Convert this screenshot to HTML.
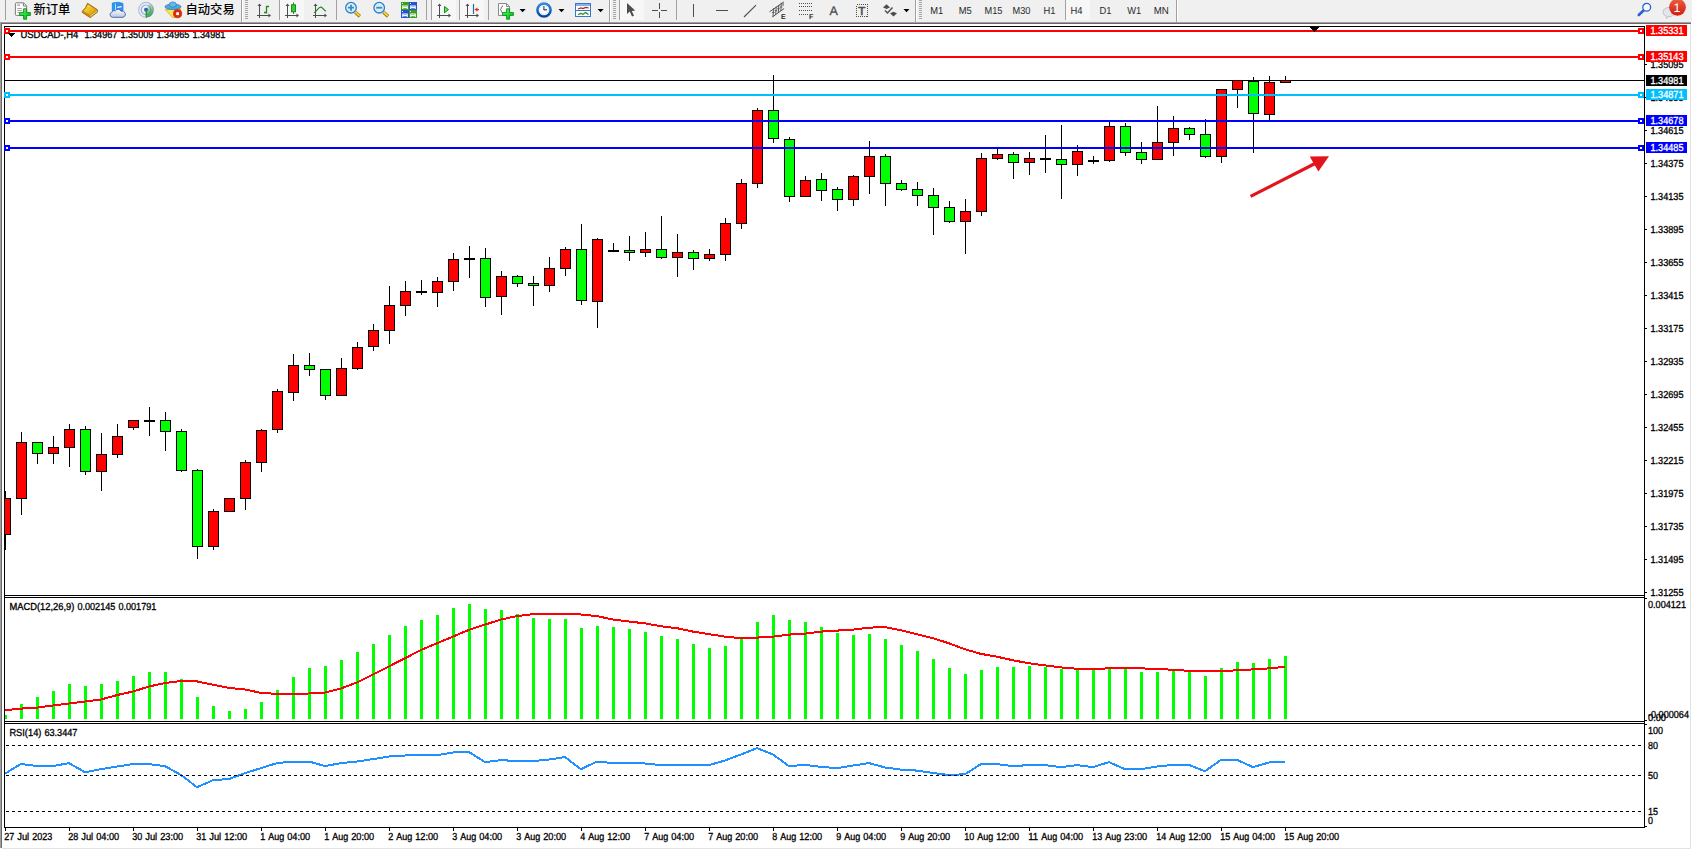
<!DOCTYPE html>
<html lang="zh-CN"><head><meta charset="utf-8"><title>USDCAD-,H4</title>
<style>
html,body{margin:0;padding:0;background:#fff;}
body{width:1692px;height:850px;overflow:hidden;position:relative;font-family:"Liberation Sans","Noto Sans CJK SC",sans-serif;}
#tbb{position:absolute;left:0;top:0;width:1692px;height:22px;background:#f0f0f0;}
#tb{position:absolute;left:0;top:0;width:1692px;height:22px;z-index:3;}
#tb .t{position:absolute;top:0;height:22px;line-height:22px;white-space:nowrap;}
#tb .cj{font-family:"Liberation Sans","Noto Sans CJK SC",sans-serif;font-size:12.3px;color:#000;top:-1.1px;font-weight:500;}
#tb .tf{font-size:9.5px;color:#3c3c3c;top:0px;}
svg{position:absolute;left:0;top:0;}
svg text{font-family:"Liberation Sans",sans-serif;font-size:10.2px;fill:#000;stroke:#000;stroke-width:0.32px;text-rendering:geometricPrecision;white-space:pre;}
svg text.w{fill:#fff;stroke:#fff;}
</style></head><body>
<div id="tbb"></div>
<div id="tb">
<span class="t cj" style="left:33.4px;letter-spacing:0px">新订单</span>
<span class="t cj" style="left:185.5px;letter-spacing:0px">自动交易</span>
</div>
<svg width="1692" height="850" viewBox="0 0 1692 850">
<g id="tbg">
<rect x="0" y="22" width="1691" height="1" fill="#a0a0a0" shape-rendering="crispEdges"/>
<rect x="1" y="23" width="1690" height="1" fill="#696969" shape-rendering="crispEdges"/>
<rect x="0" y="22" width="1" height="826" fill="#a0a0a0" shape-rendering="crispEdges"/>
<rect x="1" y="23" width="1" height="825" fill="#696969" shape-rendering="crispEdges"/>
<rect x="1690" y="24" width="1" height="825" fill="#e3e3e3" shape-rendering="crispEdges"/>
<rect x="2" y="848" width="1689" height="1" fill="#e3e3e3" shape-rendering="crispEdges"/>
<rect x="5" y="0" width="1" height="20" fill="#a0a0a0" shape-rendering="crispEdges"/>
<defs><linearGradient id="gp" x1="0" y1="0" x2="1" y2="1"><stop offset="0" stop-color="#7dff8a"/><stop offset="0.5" stop-color="#1fe03a"/><stop offset="1" stop-color="#0fb020"/></linearGradient><linearGradient id="gb" x1="0" y1="0" x2="1" y2="1"><stop offset="0" stop-color="#ffe45a"/><stop offset="0.55" stop-color="#eab818"/><stop offset="1" stop-color="#d09410"/></linearGradient><linearGradient id="gc" x1="0" y1="0" x2="0" y2="1"><stop offset="0" stop-color="#ffffff"/><stop offset="1" stop-color="#b8c8e4"/></linearGradient><linearGradient id="gs" x1="0" y1="0" x2="0.3" y2="1"><stop offset="0" stop-color="#bfe0bf" stop-opacity="0.5"/><stop offset="1" stop-color="#2fa02f" stop-opacity="0.95"/></linearGradient></defs>
<path d="M16.2 2.8 H23.6 L26.6 5.8 V14.6 Q26.6 15.4 25.8 15.4 H16.2 Q15.4 15.4 15.4 14.6 V3.6 Q15.4 2.8 16.2 2.8 Z" fill="#fefefe" stroke="#7c7c7c" stroke-width="1"/>
<path d="M23.4 3 V6 H26.4" fill="none" stroke="#7c7c7c" stroke-width="1"/>
<rect x="17.2" y="4.4" width="2.8" height="1.4" fill="#a8a8a8"/>
<path d="M17.3 8.5 H21.8 M17.3 10.5 H21.8 M17.3 12.4 H20" stroke="#9a9a9a" stroke-width="0.9"/>
<path d="M23.6 8.8 H26.6 V12.6 H30.4 V15.4 H26.6 V19.2 H23.6 V15.4 H19.6 V12.6 H23.6 Z" fill="url(#gp)" stroke="#0c8c14" stroke-width="0.9"/>
<path d="M87.5 3.2 L97.3 9.6 L97.6 12 L90.2 17.7 L82.2 12.4 L82.3 11.2 Q86 8 87.5 3.2 Z" fill="#c48a14" stroke="#a06408" stroke-width="0.8"/>
<path d="M88 4.6 L96.2 9.9 L89.9 14.9 L83.6 11.1 Q86.6 8.4 88 4.6 Z" fill="url(#gb)"/>
<path d="M90.2 16.3 L96.8 11.2" stroke="#f4e8b8" stroke-width="0.9"/>
<path d="M112.3 3 L118 2.2 L123 3.4 V11 H112.3 Z" fill="#1e9cf4" stroke="#1878d8" stroke-width="0.7"/>
<path d="M115.6 4.2 L123 3.6 V11 H115.6 Z" fill="#2e8cf0"/>
<path d="M115.5 3.6 V11" stroke="#d8f0ff" stroke-width="0.8"/>
<path d="M117.2 7.4 L121.6 6.6" stroke="#ffffff" stroke-width="1.1"/>
<path d="M112.5 17.3 a2.7 2.7 0 0 1 -0.4 -5.3 a3 3 0 0 1 3.4 -1.2 a3.2 3.2 0 0 1 5.6 0.4 a2.9 2.9 0 0 1 2.1 6.1 Z" fill="url(#gc)" stroke="#3f62a8" stroke-width="0.9"/>
<path d="M146 9.8 L149.8 3.2 A7.6 7.6 0 0 1 146 17.4 Z" fill="url(#gs)"/>
<circle cx="146" cy="9.8" r="7.4" fill="none" stroke="#4a7fd8" stroke-width="1.1" opacity="0.42"/>
<circle cx="146" cy="9.8" r="4.8" fill="none" stroke="#3f74d4" stroke-width="1.2" opacity="0.55"/>
<circle cx="146" cy="9.8" r="2" fill="#2a5fd0"/>
<path d="M146.3 10 V17.6" stroke="#18a018" stroke-width="1.4"/>
<path d="M165.3 9.6 L180.9 8.9 L175 17.6 L172.6 17.6 Z" fill="#f8e264" stroke="#d8a818" stroke-width="0.8"/>
<ellipse cx="173" cy="6.8" rx="8" ry="2.7" fill="#4fa8e0" stroke="#2a80b4" stroke-width="0.8"/>
<ellipse cx="172.8" cy="4.6" rx="3.6" ry="2.7" fill="#62b8ec" stroke="#2a80b4" stroke-width="0.7"/>
<circle cx="177.6" cy="13.7" r="4.1" fill="#e22a0a" stroke="#b81804" stroke-width="0.6"/>
<rect x="176.2" y="12.3" width="2.8" height="2.8" fill="#fff"/>
<rect x="241" y="0" width="1" height="22" fill="#a0a0a0" shape-rendering="crispEdges"/>
<rect x="242" y="0" width="1" height="22" fill="#ffffff" shape-rendering="crispEdges"/>
<rect x="245" y="0" width="3" height="1" fill="#a6a6a6" shape-rendering="crispEdges"/>
<rect x="245" y="2" width="3" height="1" fill="#a6a6a6" shape-rendering="crispEdges"/>
<rect x="245" y="4" width="3" height="1" fill="#a6a6a6" shape-rendering="crispEdges"/>
<rect x="245" y="6" width="3" height="1" fill="#a6a6a6" shape-rendering="crispEdges"/>
<rect x="245" y="8" width="3" height="1" fill="#a6a6a6" shape-rendering="crispEdges"/>
<rect x="245" y="10" width="3" height="1" fill="#a6a6a6" shape-rendering="crispEdges"/>
<rect x="245" y="12" width="3" height="1" fill="#a6a6a6" shape-rendering="crispEdges"/>
<rect x="245" y="14" width="3" height="1" fill="#a6a6a6" shape-rendering="crispEdges"/>
<rect x="245" y="16" width="3" height="1" fill="#a6a6a6" shape-rendering="crispEdges"/>
<rect x="245" y="18" width="3" height="1" fill="#a6a6a6" shape-rendering="crispEdges"/>
<path d="M259.5 5 V18 M257 15.5 H269" stroke="#4d4d4d" stroke-width="1" fill="none" shape-rendering="crispEdges"/>
<path d="M259.5 3.5 L257.5 6 H261.5 Z M271 15.5 L268.5 13.5 V17.5 Z" fill="#4d4d4d"/>
<path d="M266.5 6 V13.5 M266.5 6.5 H269 M264 12.5 H266.5" stroke="#1d8a1d" stroke-width="1.3" fill="none"/>
<rect x="279" y="0" width="1" height="20" fill="#a0a0a0" shape-rendering="crispEdges"/>
<rect x="280" y="0" width="24" height="20" fill="#f7f7f7" shape-rendering="crispEdges"/>
<path d="M287.5 5 V18 M285 15.5 H297" stroke="#4d4d4d" stroke-width="1" fill="none" shape-rendering="crispEdges"/>
<path d="M287.5 3.5 L285.5 6 H289.5 Z M299 15.5 L296.5 13.5 V17.5 Z" fill="#4d4d4d"/>
<path d="M293.5 2.5 V14" stroke="#1d8a1d" stroke-width="1"/>
<rect x="291.5" y="4.8" width="4" height="7" fill="#2fd02f" stroke="#1d8a1d" stroke-width="1"/>
<path d="M315.5 5 V18 M313 15.5 H325" stroke="#4d4d4d" stroke-width="1" fill="none" shape-rendering="crispEdges"/>
<path d="M315.5 3.5 L313.5 6 H317.5 Z M327 15.5 L324.5 13.5 V17.5 Z" fill="#4d4d4d"/>
<path d="M314 12.8 C317 11.5 318.5 6.5 321 7.2 C323 7.8 324 10.5 326 11.2" stroke="#1d8a1d" stroke-width="1.2" fill="none"/>
<rect x="336" y="0" width="1" height="20" fill="#a0a0a0" shape-rendering="crispEdges"/>
<path d="M355.2 12.3 L359.9 16.4" stroke="#b07c0a" stroke-width="3.4"/>
<path d="M355.4 12.1 L359.6 15.8" stroke="#f2d648" stroke-width="1.6"/>
<circle cx="351" cy="7.7" r="5.3" fill="#d2eefc" stroke="#2f7fc8" stroke-width="1.3"/>
<path d="M348 7.7 H354 M351 4.7 V10.7" stroke="#4688b0" stroke-width="1.8"/>
<path d="M383.4 12.3 L388.09999999999997 16.4" stroke="#b07c0a" stroke-width="3.4"/>
<path d="M383.59999999999997 12.1 L387.8 15.8" stroke="#f2d648" stroke-width="1.6"/>
<circle cx="379.2" cy="7.7" r="5.3" fill="#d2eefc" stroke="#2f7fc8" stroke-width="1.3"/>
<path d="M376.2 7.7 H382.2" stroke="#4688b0" stroke-width="1.8"/>
<rect x="401" y="2" width="8" height="8" fill="#38a01c"/>
<rect x="402" y="3" width="1" height="1" fill="#e8f0e8"/>
<path d="M402.2 5.4 H407.8 V9 H406.8 V8.2 H403.2 V9 H402.2 Z" fill="#ffffff"/>
<rect x="403.2" y="6.2" width="3.6" height="0.9" fill="#8fd070"/>
<rect x="409" y="2" width="8" height="8" fill="#2454d0"/>
<rect x="410" y="3" width="1" height="1" fill="#e8f0e8"/>
<path d="M410.2 5.4 H415.8 V9 H414.8 V8.2 H411.2 V9 H410.2 Z" fill="#ffffff"/>
<rect x="411.2" y="6.2" width="3.6" height="0.9" fill="#88a8f0"/>
<rect x="401" y="10" width="8" height="8" fill="#2454d0"/>
<rect x="402" y="11" width="1" height="1" fill="#e8f0e8"/>
<path d="M402.2 13.4 H407.8 V17 H406.8 V16.2 H403.2 V17 H402.2 Z" fill="#ffffff"/>
<rect x="403.2" y="14.2" width="3.6" height="0.9" fill="#88a8f0"/>
<rect x="409" y="10" width="8" height="8" fill="#38a01c"/>
<rect x="410" y="11" width="1" height="1" fill="#e8f0e8"/>
<path d="M410.2 13.4 H415.8 V17 H414.8 V16.2 H411.2 V17 H410.2 Z" fill="#ffffff"/>
<rect x="411.2" y="14.2" width="3.6" height="0.9" fill="#8fd070"/>
<rect x="426" y="0" width="1" height="20" fill="#a0a0a0" shape-rendering="crispEdges"/>
<rect x="431" y="0" width="1" height="20" fill="#a0a0a0" shape-rendering="crispEdges"/>
<rect x="432" y="0" width="24" height="20" fill="#f7f7f7" shape-rendering="crispEdges"/>
<path d="M439.5 5 V18 M437 15.5 H449" stroke="#4d4d4d" stroke-width="1" fill="none" shape-rendering="crispEdges"/>
<path d="M439.5 3.5 L437.5 6 H441.5 Z M451 15.5 L448.5 13.5 V17.5 Z" fill="#4d4d4d"/>
<path d="M444.5 6.5 L448.5 9.6 L444.5 12.8 Z" fill="#5fe05f" stroke="#1d8a1d" stroke-width="1"/>
<rect x="459" y="0" width="1" height="20" fill="#a0a0a0" shape-rendering="crispEdges"/>
<rect x="460" y="0" width="24" height="20" fill="#f7f7f7" shape-rendering="crispEdges"/>
<path d="M467.5 5 V18 M465 15.5 H477" stroke="#4d4d4d" stroke-width="1" fill="none" shape-rendering="crispEdges"/>
<path d="M467.5 3.5 L465.5 6 H469.5 Z M479 15.5 L476.5 13.5 V17.5 Z" fill="#4d4d4d"/>
<path d="M473.5 4 V14" stroke="#1f6fb0" stroke-width="1.2"/>
<path d="M474.5 9.6 L477.5 7.4 V9 H479 V10.2 H477.5 V11.8 Z" fill="#d83a10"/>
<rect x="488" y="0" width="1" height="20" fill="#a0a0a0" shape-rendering="crispEdges"/>
<path d="M498.5 3.5 H506.5 L509.5 6.5 V15.5 H498.5 Z" fill="#fdfdfd" stroke="#8a8a8a" stroke-width="1"/>
<path d="M506.5 3.5 V6.5 H509.5" fill="none" stroke="#8a8a8a" stroke-width="1"/>
<path d="M503 6 C501 6 501.5 9 500.5 9.5 C501.5 10 501 13 503 13" fill="none" stroke="#555" stroke-width="0.9"/>
<path d="M506.6 8.8 H509.6 V12.6 H513.4 V15.4 H509.6 V19.2 H506.6 V15.4 H502.6 V12.6 H506.6 Z" fill="url(#gp)" stroke="#0c8c14" stroke-width="0.9"/>
<path d="M519.6 9 L525.6 9 L522.6 12.2 Z" fill="#000"/>
<defs><linearGradient id="gk" x1="0" y1="0" x2="0" y2="1"><stop offset="0" stop-color="#2a8cf0"/><stop offset="1" stop-color="#0a449c"/></linearGradient></defs>
<circle cx="544" cy="10" r="6.6" fill="#f8fbff" stroke="url(#gk)" stroke-width="2.5"/>
<circle cx="544" cy="10" r="4.3" fill="none" stroke="#a8b4c4" stroke-width="0.8" stroke-dasharray="0.7 1.55"/>
<path d="M543.9 6.2 V10 L547 9.7" stroke="#222" stroke-width="1" fill="none"/>
<path d="M558.5 9 L564.5 9 L561.5 12.2 Z" fill="#000"/>
<rect x="575.5" y="3.5" width="15" height="13" fill="#fafcff" stroke="#3a78c8" stroke-width="1"/>
<rect x="576" y="4" width="14" height="2" fill="#7fb2ee"/>
<path d="M576 10.5 H590" stroke="#3a78c8" stroke-width="1"/>
<path d="M578 9 L581 8 L583 8.6 L585.5 7.4 L588.5 7.8" stroke="#b02a10" stroke-width="1.2" fill="none"/>
<path d="M578 14.5 L581 13.4 L583 14.4 L585.5 12.6 L588.5 14.6" stroke="#1d8a1d" stroke-width="1.2" fill="none"/>
<path d="M597.6 9 L603.6 9 L600.6 12.2 Z" fill="#000"/>
<rect x="609" y="0" width="1" height="22" fill="#a0a0a0" shape-rendering="crispEdges"/>
<rect x="610" y="0" width="1" height="22" fill="#ffffff" shape-rendering="crispEdges"/>
<rect x="613" y="0" width="3" height="1" fill="#a6a6a6" shape-rendering="crispEdges"/>
<rect x="613" y="2" width="3" height="1" fill="#a6a6a6" shape-rendering="crispEdges"/>
<rect x="613" y="4" width="3" height="1" fill="#a6a6a6" shape-rendering="crispEdges"/>
<rect x="613" y="6" width="3" height="1" fill="#a6a6a6" shape-rendering="crispEdges"/>
<rect x="613" y="8" width="3" height="1" fill="#a6a6a6" shape-rendering="crispEdges"/>
<rect x="613" y="10" width="3" height="1" fill="#a6a6a6" shape-rendering="crispEdges"/>
<rect x="613" y="12" width="3" height="1" fill="#a6a6a6" shape-rendering="crispEdges"/>
<rect x="613" y="14" width="3" height="1" fill="#a6a6a6" shape-rendering="crispEdges"/>
<rect x="613" y="16" width="3" height="1" fill="#a6a6a6" shape-rendering="crispEdges"/>
<rect x="613" y="18" width="3" height="1" fill="#a6a6a6" shape-rendering="crispEdges"/>
<rect x="619" y="0" width="1" height="20" fill="#a0a0a0" shape-rendering="crispEdges"/>
<rect x="620" y="0" width="24" height="20" fill="#f7f7f7" shape-rendering="crispEdges"/>
<path d="M627 3 V14 L629.8 11.6 L632 16.6 L634 15.8 L631.8 10.9 L635.2 10.6 Z" fill="#4d4d4d"/>
<path d="M652 10.5 H658 M661 10.5 H667 M659.5 3 V9 M659.5 12 V18" stroke="#4d4d4d" stroke-width="1" shape-rendering="crispEdges"/>
<rect x="676" y="0" width="1" height="20" fill="#a0a0a0" shape-rendering="crispEdges"/>
<rect x="693" y="4" width="1" height="13" fill="#4d4d4d" shape-rendering="crispEdges"/>
<rect x="716" y="10" width="12" height="1" fill="#4d4d4d" shape-rendering="crispEdges"/>
<path d="M744 17 L756 5.2" stroke="#4d4d4d" stroke-width="1.1"/>
<path d="M769.5 11.8 L782.7 2.8 M772.3 17 L784.1 8.5" stroke="#4d4d4d" stroke-width="1" fill="none"/>
<path d="M773.6 8.2 L773 16.8 M776.2 6.6 L775.7 14.8 M778.8 4.8 L778.3 12.8 M781.3 2.6 L780.9 11 M783.2 1.6 L783 6" stroke="#4d4d4d" stroke-width="0.9" fill="none"/>
<path d="M772 12.5 H774.6 M774.6 10.6 H777.2 M777.2 8.8 H779.8 M779.8 7 H782.4" stroke="#4d4d4d" stroke-width="0.8" fill="none"/>
<text x="781" y="18.6" style="font-size:7px;font-weight:bold;fill:#2a2a2a;stroke:none">E</text>
<path d="M799 3.5 H812" stroke="#4d4d4d" stroke-width="1" stroke-dasharray="1 1" shape-rendering="crispEdges"/>
<path d="M799 6.5 H812" stroke="#4d4d4d" stroke-width="1" stroke-dasharray="1 1" shape-rendering="crispEdges"/>
<path d="M799 10.5 H812" stroke="#4d4d4d" stroke-width="1" stroke-dasharray="1 1" shape-rendering="crispEdges"/>
<path d="M799 14.5 H808" stroke="#4d4d4d" stroke-width="1" stroke-dasharray="1 1" shape-rendering="crispEdges"/>
<text x="809" y="18.6" style="font-size:7px;font-weight:bold;fill:#2a2a2a;stroke:none">F</text>
<text x="829.6" y="15" style="font-size:12.5px;fill:#4d4d4d;stroke:#4d4d4d;stroke-width:0.3px">A</text>
<rect x="856.5" y="4.5" width="11" height="12" fill="none" stroke="#4d4d4d" stroke-width="1" stroke-dasharray="1 1" shape-rendering="crispEdges"/>
<text x="858.3" y="14.8" style="font-size:11.5px;fill:#4d4d4d;stroke:#4d4d4d;stroke-width:0.6px">T</text>
<path d="M886.5 4.2 L890 7.5 L886.5 9 L883 7.5 Z" fill="#4d4d4d"/>
<path d="M893.5 16.5 L890 13.2 L893.5 11.8 L897 13.2 Z" fill="#4d4d4d"/>
<path d="M885 10.5 L887.5 13 L892.5 7.5" stroke="#4d4d4d" stroke-width="1.4" fill="none"/>
<path d="M903.5 9 L909.5 9 L906.5 12.2 Z" fill="#000"/>
<rect x="915" y="0" width="1" height="22" fill="#a0a0a0" shape-rendering="crispEdges"/>
<rect x="916" y="0" width="1" height="22" fill="#ffffff" shape-rendering="crispEdges"/>
<rect x="919" y="0" width="3" height="1" fill="#a6a6a6" shape-rendering="crispEdges"/>
<rect x="919" y="2" width="3" height="1" fill="#a6a6a6" shape-rendering="crispEdges"/>
<rect x="919" y="4" width="3" height="1" fill="#a6a6a6" shape-rendering="crispEdges"/>
<rect x="919" y="6" width="3" height="1" fill="#a6a6a6" shape-rendering="crispEdges"/>
<rect x="919" y="8" width="3" height="1" fill="#a6a6a6" shape-rendering="crispEdges"/>
<rect x="919" y="10" width="3" height="1" fill="#a6a6a6" shape-rendering="crispEdges"/>
<rect x="919" y="12" width="3" height="1" fill="#a6a6a6" shape-rendering="crispEdges"/>
<rect x="919" y="14" width="3" height="1" fill="#a6a6a6" shape-rendering="crispEdges"/>
<rect x="919" y="16" width="3" height="1" fill="#a6a6a6" shape-rendering="crispEdges"/>
<rect x="919" y="18" width="3" height="1" fill="#a6a6a6" shape-rendering="crispEdges"/>
<rect x="1065" y="0" width="1" height="20" fill="#a0a0a0" shape-rendering="crispEdges"/>
<rect x="1066" y="0" width="24" height="20" fill="#f7f7f7" shape-rendering="crispEdges"/>
<rect x="1176" y="0" width="1" height="22" fill="#a0a0a0" shape-rendering="crispEdges"/>
<rect x="1177" y="0" width="1" height="22" fill="#ffffff" shape-rendering="crispEdges"/>
<text x="930.2" y="14" textLength="13" lengthAdjust="spacingAndGlyphs" style="fill:#2a2a2a;stroke:none">M1</text>
<text x="958.7" y="14" textLength="13" lengthAdjust="spacingAndGlyphs" style="fill:#2a2a2a;stroke:none">M5</text>
<text x="984.5" y="14" textLength="18" lengthAdjust="spacingAndGlyphs" style="fill:#2a2a2a;stroke:none">M15</text>
<text x="1012.5" y="14" textLength="18" lengthAdjust="spacingAndGlyphs" style="fill:#2a2a2a;stroke:none">M30</text>
<text x="1043.5" y="14" textLength="12" lengthAdjust="spacingAndGlyphs" style="fill:#2a2a2a;stroke:none">H1</text>
<text x="1070.5" y="14" textLength="12" lengthAdjust="spacingAndGlyphs" style="fill:#2a2a2a;stroke:none">H4</text>
<text x="1099.5" y="14" textLength="12" lengthAdjust="spacingAndGlyphs" style="fill:#2a2a2a;stroke:none">D1</text>
<text x="1127.2" y="14" textLength="14" lengthAdjust="spacingAndGlyphs" style="fill:#2a2a2a;stroke:none">W1</text>
<text x="1153.7" y="14" textLength="15" lengthAdjust="spacingAndGlyphs" style="fill:#2a2a2a;stroke:none">MN</text>
<path d="M1644 10 L1638.8 15" stroke="#2a5fd0" stroke-width="2.6" stroke-linecap="round"/>
<circle cx="1646.7" cy="7.3" r="3.9" fill="#f6f8ff" stroke="#2a5fd0" stroke-width="1.3"/>
<path d="M1663 12 a6 4.6 0 1 1 5 4.6 l-1.6 2 l-0.2 -2.4 a6 4.6 0 0 1 -3.2 -4.2 Z" fill="#e2e4ee" stroke="#b8b8b8" stroke-width="0.8"/>
<defs><linearGradient id="rb" x1="0" y1="0" x2="0" y2="1"><stop offset="0" stop-color="#e86040"/><stop offset="1" stop-color="#d41c0c"/></linearGradient></defs>
<circle cx="1677.5" cy="7.3" r="8.4" fill="url(#rb)"/>
<text x="1673.6" y="11.8" class="w" style="font-size:12.5px;stroke:none">1</text>
</g>
<g shape-rendering="crispEdges">
<rect x="4" y="26" width="1641" height="1" fill="#000"/>
<rect x="4" y="26" width="1" height="802" fill="#000"/>
<rect x="1644" y="26" width="1" height="802" fill="#000"/>
<rect x="4" y="595" width="1641" height="1" fill="#000"/>
<rect x="4" y="597" width="1641" height="1" fill="#000"/>
<rect x="4" y="721" width="1641" height="1" fill="#000"/>
<rect x="4" y="723" width="1641" height="1" fill="#000"/>
<rect x="4" y="827" width="1641" height="1" fill="#000"/>
<clipPath id="cc"><rect x="5" y="27" width="1639" height="568"/></clipPath>
<g clip-path="url(#cc)">
<rect x="5" y="491" width="1" height="59" fill="#000"/>
<rect x="0" y="498" width="11" height="37" fill="#000"/>
<rect x="1" y="499" width="9" height="35" fill="#ff0000"/>
<rect x="21" y="432" width="1" height="83" fill="#000"/>
<rect x="16" y="442" width="11" height="57" fill="#000"/>
<rect x="17" y="443" width="9" height="55" fill="#ff0000"/>
<rect x="37" y="442" width="1" height="22" fill="#000"/>
<rect x="32" y="442" width="11" height="12" fill="#000"/>
<rect x="33" y="443" width="9" height="10" fill="#00ff00"/>
<rect x="53" y="436" width="1" height="28" fill="#000"/>
<rect x="48" y="447" width="11" height="7" fill="#000"/>
<rect x="49" y="448" width="9" height="5" fill="#ff0000"/>
<rect x="69" y="424" width="1" height="43" fill="#000"/>
<rect x="64" y="429" width="11" height="19" fill="#000"/>
<rect x="65" y="430" width="9" height="17" fill="#ff0000"/>
<rect x="85" y="426" width="1" height="49" fill="#000"/>
<rect x="80" y="429" width="11" height="43" fill="#000"/>
<rect x="81" y="430" width="9" height="41" fill="#00ff00"/>
<rect x="101" y="433" width="1" height="58" fill="#000"/>
<rect x="96" y="454" width="11" height="18" fill="#000"/>
<rect x="97" y="455" width="9" height="16" fill="#ff0000"/>
<rect x="117" y="424" width="1" height="34" fill="#000"/>
<rect x="112" y="436" width="11" height="19" fill="#000"/>
<rect x="113" y="437" width="9" height="17" fill="#ff0000"/>
<rect x="133" y="420" width="1" height="10" fill="#000"/>
<rect x="128" y="420" width="11" height="8" fill="#000"/>
<rect x="129" y="421" width="9" height="6" fill="#ff0000"/>
<rect x="149" y="407" width="1" height="29" fill="#000"/>
<rect x="144" y="420" width="11" height="2" fill="#000"/>
<rect x="165" y="412" width="1" height="39" fill="#000"/>
<rect x="160" y="420" width="11" height="12" fill="#000"/>
<rect x="161" y="421" width="9" height="10" fill="#00ff00"/>
<rect x="181" y="429" width="1" height="43" fill="#000"/>
<rect x="176" y="431" width="11" height="40" fill="#000"/>
<rect x="177" y="432" width="9" height="38" fill="#00ff00"/>
<rect x="197" y="469" width="1" height="90" fill="#000"/>
<rect x="192" y="470" width="11" height="77" fill="#000"/>
<rect x="193" y="471" width="9" height="75" fill="#00ff00"/>
<rect x="213" y="509" width="1" height="41" fill="#000"/>
<rect x="208" y="511" width="11" height="36" fill="#000"/>
<rect x="209" y="512" width="9" height="34" fill="#ff0000"/>
<rect x="229" y="498" width="1" height="14" fill="#000"/>
<rect x="224" y="498" width="11" height="14" fill="#000"/>
<rect x="225" y="499" width="9" height="12" fill="#ff0000"/>
<rect x="245" y="460" width="1" height="50" fill="#000"/>
<rect x="240" y="462" width="11" height="37" fill="#000"/>
<rect x="241" y="463" width="9" height="35" fill="#ff0000"/>
<rect x="261" y="429" width="1" height="43" fill="#000"/>
<rect x="256" y="430" width="11" height="33" fill="#000"/>
<rect x="257" y="431" width="9" height="31" fill="#ff0000"/>
<rect x="277" y="389" width="1" height="44" fill="#000"/>
<rect x="272" y="391" width="11" height="39" fill="#000"/>
<rect x="273" y="392" width="9" height="37" fill="#ff0000"/>
<rect x="293" y="354" width="1" height="47" fill="#000"/>
<rect x="288" y="365" width="11" height="28" fill="#000"/>
<rect x="289" y="366" width="9" height="26" fill="#ff0000"/>
<rect x="309" y="353" width="1" height="23" fill="#000"/>
<rect x="304" y="365" width="11" height="5" fill="#000"/>
<rect x="305" y="366" width="9" height="3" fill="#00ff00"/>
<rect x="325" y="369" width="1" height="31" fill="#000"/>
<rect x="320" y="369" width="11" height="27" fill="#000"/>
<rect x="321" y="370" width="9" height="25" fill="#00ff00"/>
<rect x="341" y="358" width="1" height="38" fill="#000"/>
<rect x="336" y="368" width="11" height="28" fill="#000"/>
<rect x="337" y="369" width="9" height="26" fill="#ff0000"/>
<rect x="357" y="342" width="1" height="28" fill="#000"/>
<rect x="352" y="347" width="11" height="22" fill="#000"/>
<rect x="353" y="348" width="9" height="20" fill="#ff0000"/>
<rect x="373" y="324" width="1" height="27" fill="#000"/>
<rect x="368" y="330" width="11" height="17" fill="#000"/>
<rect x="369" y="331" width="9" height="15" fill="#ff0000"/>
<rect x="389" y="286" width="1" height="58" fill="#000"/>
<rect x="384" y="305" width="11" height="26" fill="#000"/>
<rect x="385" y="306" width="9" height="24" fill="#ff0000"/>
<rect x="405" y="281" width="1" height="35" fill="#000"/>
<rect x="400" y="291" width="11" height="15" fill="#000"/>
<rect x="401" y="292" width="9" height="13" fill="#ff0000"/>
<rect x="421" y="280" width="1" height="15" fill="#000"/>
<rect x="416" y="291" width="11" height="2" fill="#000"/>
<rect x="437" y="277" width="1" height="30" fill="#000"/>
<rect x="432" y="281" width="11" height="12" fill="#000"/>
<rect x="433" y="282" width="9" height="10" fill="#ff0000"/>
<rect x="453" y="253" width="1" height="38" fill="#000"/>
<rect x="448" y="259" width="11" height="23" fill="#000"/>
<rect x="449" y="260" width="9" height="21" fill="#ff0000"/>
<rect x="469" y="246" width="1" height="32" fill="#000"/>
<rect x="464" y="258" width="11" height="2" fill="#000"/>
<rect x="485" y="248" width="1" height="59" fill="#000"/>
<rect x="480" y="258" width="11" height="40" fill="#000"/>
<rect x="481" y="259" width="9" height="38" fill="#00ff00"/>
<rect x="501" y="271" width="1" height="44" fill="#000"/>
<rect x="496" y="276" width="11" height="21" fill="#000"/>
<rect x="497" y="277" width="9" height="19" fill="#ff0000"/>
<rect x="517" y="275" width="1" height="12" fill="#000"/>
<rect x="512" y="276" width="11" height="8" fill="#000"/>
<rect x="513" y="277" width="9" height="6" fill="#00ff00"/>
<rect x="533" y="276" width="1" height="30" fill="#000"/>
<rect x="528" y="283" width="11" height="3" fill="#000"/>
<rect x="529" y="284" width="9" height="1" fill="#00ff00"/>
<rect x="549" y="257" width="1" height="35" fill="#000"/>
<rect x="544" y="268" width="11" height="18" fill="#000"/>
<rect x="545" y="269" width="9" height="16" fill="#ff0000"/>
<rect x="565" y="247" width="1" height="29" fill="#000"/>
<rect x="560" y="249" width="11" height="20" fill="#000"/>
<rect x="561" y="250" width="9" height="18" fill="#ff0000"/>
<rect x="581" y="224" width="1" height="81" fill="#000"/>
<rect x="576" y="249" width="11" height="52" fill="#000"/>
<rect x="577" y="250" width="9" height="50" fill="#00ff00"/>
<rect x="597" y="238" width="1" height="90" fill="#000"/>
<rect x="592" y="239" width="11" height="63" fill="#000"/>
<rect x="593" y="240" width="9" height="61" fill="#ff0000"/>
<rect x="613" y="243" width="1" height="9" fill="#000"/>
<rect x="608" y="250" width="11" height="2" fill="#000"/>
<rect x="629" y="236" width="1" height="25" fill="#000"/>
<rect x="624" y="250" width="11" height="3" fill="#000"/>
<rect x="625" y="251" width="9" height="1" fill="#00ff00"/>
<rect x="645" y="232" width="1" height="25" fill="#000"/>
<rect x="640" y="249" width="11" height="4" fill="#000"/>
<rect x="641" y="250" width="9" height="2" fill="#ff0000"/>
<rect x="661" y="216" width="1" height="43" fill="#000"/>
<rect x="656" y="249" width="11" height="9" fill="#000"/>
<rect x="657" y="250" width="9" height="7" fill="#00ff00"/>
<rect x="677" y="234" width="1" height="43" fill="#000"/>
<rect x="672" y="252" width="11" height="6" fill="#000"/>
<rect x="673" y="253" width="9" height="4" fill="#ff0000"/>
<rect x="693" y="250" width="1" height="20" fill="#000"/>
<rect x="688" y="252" width="11" height="7" fill="#000"/>
<rect x="689" y="253" width="9" height="5" fill="#00ff00"/>
<rect x="709" y="249" width="1" height="12" fill="#000"/>
<rect x="704" y="254" width="11" height="5" fill="#000"/>
<rect x="705" y="255" width="9" height="3" fill="#ff0000"/>
<rect x="725" y="218" width="1" height="43" fill="#000"/>
<rect x="720" y="223" width="11" height="32" fill="#000"/>
<rect x="721" y="224" width="9" height="30" fill="#ff0000"/>
<rect x="741" y="179" width="1" height="50" fill="#000"/>
<rect x="736" y="183" width="11" height="41" fill="#000"/>
<rect x="737" y="184" width="9" height="39" fill="#ff0000"/>
<rect x="757" y="108" width="1" height="80" fill="#000"/>
<rect x="752" y="110" width="11" height="74" fill="#000"/>
<rect x="753" y="111" width="9" height="72" fill="#ff0000"/>
<rect x="773" y="75" width="1" height="68" fill="#000"/>
<rect x="768" y="110" width="11" height="29" fill="#000"/>
<rect x="769" y="111" width="9" height="27" fill="#00ff00"/>
<rect x="789" y="137" width="1" height="65" fill="#000"/>
<rect x="784" y="139" width="11" height="58" fill="#000"/>
<rect x="785" y="140" width="9" height="56" fill="#00ff00"/>
<rect x="805" y="176" width="1" height="21" fill="#000"/>
<rect x="800" y="180" width="11" height="17" fill="#000"/>
<rect x="801" y="181" width="9" height="15" fill="#ff0000"/>
<rect x="821" y="173" width="1" height="28" fill="#000"/>
<rect x="816" y="179" width="11" height="12" fill="#000"/>
<rect x="817" y="180" width="9" height="10" fill="#00ff00"/>
<rect x="837" y="187" width="1" height="24" fill="#000"/>
<rect x="832" y="189" width="11" height="11" fill="#000"/>
<rect x="833" y="190" width="9" height="9" fill="#00ff00"/>
<rect x="853" y="175" width="1" height="31" fill="#000"/>
<rect x="848" y="176" width="11" height="24" fill="#000"/>
<rect x="849" y="177" width="9" height="22" fill="#ff0000"/>
<rect x="869" y="141" width="1" height="53" fill="#000"/>
<rect x="864" y="156" width="11" height="21" fill="#000"/>
<rect x="865" y="157" width="9" height="19" fill="#ff0000"/>
<rect x="885" y="154" width="1" height="52" fill="#000"/>
<rect x="880" y="156" width="11" height="28" fill="#000"/>
<rect x="881" y="157" width="9" height="26" fill="#00ff00"/>
<rect x="901" y="180" width="1" height="11" fill="#000"/>
<rect x="896" y="183" width="11" height="7" fill="#000"/>
<rect x="897" y="184" width="9" height="5" fill="#00ff00"/>
<rect x="917" y="182" width="1" height="24" fill="#000"/>
<rect x="912" y="189" width="11" height="7" fill="#000"/>
<rect x="913" y="190" width="9" height="5" fill="#00ff00"/>
<rect x="933" y="188" width="1" height="47" fill="#000"/>
<rect x="928" y="195" width="11" height="13" fill="#000"/>
<rect x="929" y="196" width="9" height="11" fill="#00ff00"/>
<rect x="949" y="201" width="1" height="22" fill="#000"/>
<rect x="944" y="207" width="11" height="15" fill="#000"/>
<rect x="945" y="208" width="9" height="13" fill="#00ff00"/>
<rect x="965" y="199" width="1" height="55" fill="#000"/>
<rect x="960" y="211" width="11" height="11" fill="#000"/>
<rect x="961" y="212" width="9" height="9" fill="#ff0000"/>
<rect x="981" y="153" width="1" height="63" fill="#000"/>
<rect x="976" y="158" width="11" height="54" fill="#000"/>
<rect x="977" y="159" width="9" height="52" fill="#ff0000"/>
<rect x="997" y="149" width="1" height="11" fill="#000"/>
<rect x="992" y="154" width="11" height="5" fill="#000"/>
<rect x="993" y="155" width="9" height="3" fill="#ff0000"/>
<rect x="1013" y="152" width="1" height="27" fill="#000"/>
<rect x="1008" y="154" width="11" height="9" fill="#000"/>
<rect x="1009" y="155" width="9" height="7" fill="#00ff00"/>
<rect x="1029" y="152" width="1" height="23" fill="#000"/>
<rect x="1024" y="158" width="11" height="5" fill="#000"/>
<rect x="1025" y="159" width="9" height="3" fill="#ff0000"/>
<rect x="1045" y="135" width="1" height="38" fill="#000"/>
<rect x="1040" y="158" width="11" height="2" fill="#000"/>
<rect x="1061" y="125" width="1" height="74" fill="#000"/>
<rect x="1056" y="159" width="11" height="6" fill="#000"/>
<rect x="1057" y="160" width="9" height="4" fill="#00ff00"/>
<rect x="1077" y="145" width="1" height="31" fill="#000"/>
<rect x="1072" y="151" width="11" height="14" fill="#000"/>
<rect x="1073" y="152" width="9" height="12" fill="#ff0000"/>
<rect x="1093" y="156" width="1" height="8" fill="#000"/>
<rect x="1088" y="160" width="11" height="2" fill="#000"/>
<rect x="1109" y="122" width="1" height="40" fill="#000"/>
<rect x="1104" y="126" width="11" height="35" fill="#000"/>
<rect x="1105" y="127" width="9" height="33" fill="#ff0000"/>
<rect x="1125" y="123" width="1" height="33" fill="#000"/>
<rect x="1120" y="126" width="11" height="27" fill="#000"/>
<rect x="1121" y="127" width="9" height="25" fill="#00ff00"/>
<rect x="1141" y="142" width="1" height="22" fill="#000"/>
<rect x="1136" y="152" width="11" height="8" fill="#000"/>
<rect x="1137" y="153" width="9" height="6" fill="#00ff00"/>
<rect x="1157" y="106" width="1" height="54" fill="#000"/>
<rect x="1152" y="142" width="11" height="18" fill="#000"/>
<rect x="1153" y="143" width="9" height="16" fill="#ff0000"/>
<rect x="1173" y="116" width="1" height="40" fill="#000"/>
<rect x="1168" y="128" width="11" height="15" fill="#000"/>
<rect x="1169" y="129" width="9" height="13" fill="#ff0000"/>
<rect x="1189" y="127" width="1" height="13" fill="#000"/>
<rect x="1184" y="128" width="11" height="7" fill="#000"/>
<rect x="1185" y="129" width="9" height="5" fill="#00ff00"/>
<rect x="1205" y="119" width="1" height="39" fill="#000"/>
<rect x="1200" y="134" width="11" height="23" fill="#000"/>
<rect x="1201" y="135" width="9" height="21" fill="#00ff00"/>
<rect x="1221" y="89" width="1" height="74" fill="#000"/>
<rect x="1216" y="89" width="11" height="68" fill="#000"/>
<rect x="1217" y="90" width="9" height="66" fill="#ff0000"/>
<rect x="1237" y="80" width="1" height="28" fill="#000"/>
<rect x="1232" y="80" width="11" height="10" fill="#000"/>
<rect x="1233" y="81" width="9" height="8" fill="#ff0000"/>
<rect x="1253" y="77" width="1" height="76" fill="#000"/>
<rect x="1248" y="81" width="11" height="33" fill="#000"/>
<rect x="1249" y="82" width="9" height="31" fill="#00ff00"/>
<rect x="1269" y="76" width="1" height="44" fill="#000"/>
<rect x="1264" y="82" width="11" height="33" fill="#000"/>
<rect x="1265" y="83" width="9" height="31" fill="#ff0000"/>
<rect x="1285" y="76" width="1" height="7" fill="#000"/>
<rect x="1280" y="80" width="11" height="3" fill="#000"/>
<rect x="1281" y="81" width="9" height="1" fill="#ff0000"/>
</g>
</g>
<text x="20.4" y="38" textLength="58" lengthAdjust="spacingAndGlyphs">USDCAD-,H4</text><text x="84.4" y="38" textLength="33" lengthAdjust="spacingAndGlyphs">1.34967</text><text x="120.4" y="38" textLength="33" lengthAdjust="spacingAndGlyphs">1.35009</text><text x="156.4" y="38" textLength="33" lengthAdjust="spacingAndGlyphs">1.34965</text><text x="192.4" y="38" textLength="33" lengthAdjust="spacingAndGlyphs">1.34981</text>
<g shape-rendering="crispEdges">
<rect x="5" y="30" width="1639" height="2" fill="#ff0000"/>
<rect x="4" y="28" width="6" height="6" fill="#ff0000"/>
<rect x="6" y="30" width="2" height="2" fill="#fff"/>
<rect x="1638" y="28" width="6" height="6" fill="#ff0000"/>
<rect x="1640" y="30" width="2" height="2" fill="#fff"/>
<rect x="5" y="56" width="1639" height="2" fill="#ff0000"/>
<rect x="4" y="54" width="6" height="6" fill="#ff0000"/>
<rect x="6" y="56" width="2" height="2" fill="#fff"/>
<rect x="1638" y="54" width="6" height="6" fill="#ff0000"/>
<rect x="1640" y="56" width="2" height="2" fill="#fff"/>
<rect x="5" y="80" width="1639" height="1" fill="#000"/>
<rect x="5" y="94" width="1639" height="2" fill="#00bfff"/>
<rect x="4" y="92" width="6" height="6" fill="#00bfff"/>
<rect x="6" y="94" width="2" height="2" fill="#fff"/>
<rect x="1638" y="92" width="6" height="6" fill="#00bfff"/>
<rect x="1640" y="94" width="2" height="2" fill="#fff"/>
<rect x="5" y="120" width="1639" height="2" fill="#0000ff"/>
<rect x="4" y="118" width="6" height="6" fill="#0000ff"/>
<rect x="6" y="120" width="2" height="2" fill="#fff"/>
<rect x="1638" y="118" width="6" height="6" fill="#0000ff"/>
<rect x="1640" y="120" width="2" height="2" fill="#fff"/>
<rect x="5" y="147" width="1639" height="2" fill="#0000ff"/>
<rect x="4" y="145" width="6" height="6" fill="#0000ff"/>
<rect x="6" y="147" width="2" height="2" fill="#fff"/>
<rect x="1638" y="145" width="6" height="6" fill="#0000ff"/>
<rect x="1640" y="147" width="2" height="2" fill="#fff"/>
<rect x="1310" y="27" width="9" height="1" fill="#000"/>
<rect x="1311" y="28" width="7" height="1" fill="#000"/>
<rect x="1312" y="29" width="5" height="1" fill="#000"/>
<rect x="1313" y="30" width="3" height="1" fill="#000"/>
<rect x="1314" y="31" width="1" height="1" fill="#000"/>
<rect x="8" y="33" width="7" height="1" fill="#000"/>
<rect x="9" y="34" width="5" height="1" fill="#000"/>
<rect x="10" y="35" width="3" height="1" fill="#000"/>
<rect x="11" y="36" width="1" height="1" fill="#000"/>
<rect x="1645" y="64" width="2" height="1" fill="#000"/>
<rect x="1645" y="97" width="2" height="1" fill="#000"/>
<rect x="1645" y="130" width="2" height="1" fill="#000"/>
<rect x="1645" y="163" width="2" height="1" fill="#000"/>
<rect x="1645" y="196" width="2" height="1" fill="#000"/>
<rect x="1645" y="229" width="2" height="1" fill="#000"/>
<rect x="1645" y="262" width="2" height="1" fill="#000"/>
<rect x="1645" y="295" width="2" height="1" fill="#000"/>
<rect x="1645" y="328" width="2" height="1" fill="#000"/>
<rect x="1645" y="361" width="2" height="1" fill="#000"/>
<rect x="1645" y="394" width="2" height="1" fill="#000"/>
<rect x="1645" y="427" width="2" height="1" fill="#000"/>
<rect x="1645" y="460" width="2" height="1" fill="#000"/>
<rect x="1645" y="493" width="2" height="1" fill="#000"/>
<rect x="1645" y="526" width="2" height="1" fill="#000"/>
<rect x="1645" y="559" width="2" height="1" fill="#000"/>
<rect x="1645" y="592" width="2" height="1" fill="#000"/>
<rect x="1645" y="598" width="2" height="1" fill="#000"/>
<rect x="1645" y="720" width="2" height="1" fill="#000"/>
<rect x="1645" y="724" width="2" height="1" fill="#000"/>
<rect x="1645" y="826" width="2" height="1" fill="#000"/>
<clipPath id="mc"><rect x="5" y="598" width="1639" height="123"/></clipPath>
<g clip-path="url(#mc)">
<rect x="4" y="715" width="3" height="4" fill="#00ff00"/>
<rect x="20" y="704" width="3" height="15" fill="#00ff00"/>
<rect x="36" y="697" width="3" height="22" fill="#00ff00"/>
<rect x="52" y="691" width="3" height="28" fill="#00ff00"/>
<rect x="68" y="684" width="3" height="35" fill="#00ff00"/>
<rect x="84" y="686" width="3" height="33" fill="#00ff00"/>
<rect x="100" y="684" width="3" height="35" fill="#00ff00"/>
<rect x="116" y="681" width="3" height="38" fill="#00ff00"/>
<rect x="132" y="676" width="3" height="43" fill="#00ff00"/>
<rect x="148" y="672" width="3" height="47" fill="#00ff00"/>
<rect x="164" y="672" width="3" height="47" fill="#00ff00"/>
<rect x="180" y="679" width="3" height="40" fill="#00ff00"/>
<rect x="196" y="697" width="3" height="22" fill="#00ff00"/>
<rect x="212" y="706" width="3" height="13" fill="#00ff00"/>
<rect x="228" y="711" width="3" height="8" fill="#00ff00"/>
<rect x="244" y="709" width="3" height="10" fill="#00ff00"/>
<rect x="260" y="702" width="3" height="17" fill="#00ff00"/>
<rect x="276" y="690" width="3" height="29" fill="#00ff00"/>
<rect x="292" y="677" width="3" height="42" fill="#00ff00"/>
<rect x="308" y="668" width="3" height="51" fill="#00ff00"/>
<rect x="324" y="666" width="3" height="53" fill="#00ff00"/>
<rect x="340" y="660" width="3" height="59" fill="#00ff00"/>
<rect x="356" y="652" width="3" height="67" fill="#00ff00"/>
<rect x="372" y="644" width="3" height="75" fill="#00ff00"/>
<rect x="388" y="635" width="3" height="84" fill="#00ff00"/>
<rect x="404" y="626" width="3" height="93" fill="#00ff00"/>
<rect x="420" y="620" width="3" height="99" fill="#00ff00"/>
<rect x="436" y="615" width="3" height="104" fill="#00ff00"/>
<rect x="452" y="608" width="3" height="111" fill="#00ff00"/>
<rect x="468" y="604" width="3" height="115" fill="#00ff00"/>
<rect x="484" y="609" width="3" height="110" fill="#00ff00"/>
<rect x="500" y="610" width="3" height="109" fill="#00ff00"/>
<rect x="516" y="614" width="3" height="105" fill="#00ff00"/>
<rect x="532" y="618" width="3" height="101" fill="#00ff00"/>
<rect x="548" y="619" width="3" height="100" fill="#00ff00"/>
<rect x="564" y="619" width="3" height="100" fill="#00ff00"/>
<rect x="580" y="628" width="3" height="91" fill="#00ff00"/>
<rect x="596" y="626" width="3" height="93" fill="#00ff00"/>
<rect x="612" y="627" width="3" height="92" fill="#00ff00"/>
<rect x="628" y="629" width="3" height="90" fill="#00ff00"/>
<rect x="644" y="632" width="3" height="87" fill="#00ff00"/>
<rect x="660" y="636" width="3" height="83" fill="#00ff00"/>
<rect x="676" y="639" width="3" height="80" fill="#00ff00"/>
<rect x="692" y="644" width="3" height="75" fill="#00ff00"/>
<rect x="708" y="648" width="3" height="71" fill="#00ff00"/>
<rect x="724" y="646" width="3" height="73" fill="#00ff00"/>
<rect x="740" y="639" width="3" height="80" fill="#00ff00"/>
<rect x="756" y="622" width="3" height="97" fill="#00ff00"/>
<rect x="772" y="615" width="3" height="104" fill="#00ff00"/>
<rect x="788" y="620" width="3" height="99" fill="#00ff00"/>
<rect x="804" y="622" width="3" height="97" fill="#00ff00"/>
<rect x="820" y="627" width="3" height="92" fill="#00ff00"/>
<rect x="836" y="633" width="3" height="86" fill="#00ff00"/>
<rect x="852" y="635" width="3" height="84" fill="#00ff00"/>
<rect x="868" y="634" width="3" height="85" fill="#00ff00"/>
<rect x="884" y="639" width="3" height="80" fill="#00ff00"/>
<rect x="900" y="645" width="3" height="74" fill="#00ff00"/>
<rect x="916" y="651" width="3" height="68" fill="#00ff00"/>
<rect x="932" y="659" width="3" height="60" fill="#00ff00"/>
<rect x="948" y="668" width="3" height="51" fill="#00ff00"/>
<rect x="964" y="674" width="3" height="45" fill="#00ff00"/>
<rect x="980" y="670" width="3" height="49" fill="#00ff00"/>
<rect x="996" y="667" width="3" height="52" fill="#00ff00"/>
<rect x="1012" y="667" width="3" height="52" fill="#00ff00"/>
<rect x="1028" y="666" width="3" height="53" fill="#00ff00"/>
<rect x="1044" y="667" width="3" height="52" fill="#00ff00"/>
<rect x="1060" y="669" width="3" height="50" fill="#00ff00"/>
<rect x="1076" y="668" width="3" height="51" fill="#00ff00"/>
<rect x="1092" y="669" width="3" height="50" fill="#00ff00"/>
<rect x="1108" y="667" width="3" height="52" fill="#00ff00"/>
<rect x="1124" y="668" width="3" height="51" fill="#00ff00"/>
<rect x="1140" y="672" width="3" height="47" fill="#00ff00"/>
<rect x="1156" y="672" width="3" height="47" fill="#00ff00"/>
<rect x="1172" y="671" width="3" height="48" fill="#00ff00"/>
<rect x="1188" y="671" width="3" height="48" fill="#00ff00"/>
<rect x="1204" y="676" width="3" height="43" fill="#00ff00"/>
<rect x="1220" y="668" width="3" height="51" fill="#00ff00"/>
<rect x="1236" y="662" width="3" height="57" fill="#00ff00"/>
<rect x="1252" y="663" width="3" height="56" fill="#00ff00"/>
<rect x="1268" y="659" width="3" height="60" fill="#00ff00"/>
<rect x="1284" y="656" width="3" height="63" fill="#00ff00"/>
</g>
<rect x="5" y="828" width="1" height="3" fill="#000"/>
<rect x="69" y="828" width="1" height="3" fill="#000"/>
<rect x="133" y="828" width="1" height="3" fill="#000"/>
<rect x="197" y="828" width="1" height="3" fill="#000"/>
<rect x="261" y="828" width="1" height="3" fill="#000"/>
<rect x="325" y="828" width="1" height="3" fill="#000"/>
<rect x="389" y="828" width="1" height="3" fill="#000"/>
<rect x="453" y="828" width="1" height="3" fill="#000"/>
<rect x="517" y="828" width="1" height="3" fill="#000"/>
<rect x="581" y="828" width="1" height="3" fill="#000"/>
<rect x="645" y="828" width="1" height="3" fill="#000"/>
<rect x="709" y="828" width="1" height="3" fill="#000"/>
<rect x="773" y="828" width="1" height="3" fill="#000"/>
<rect x="837" y="828" width="1" height="3" fill="#000"/>
<rect x="901" y="828" width="1" height="3" fill="#000"/>
<rect x="965" y="828" width="1" height="3" fill="#000"/>
<rect x="1029" y="828" width="1" height="3" fill="#000"/>
<rect x="1093" y="828" width="1" height="3" fill="#000"/>
<rect x="1157" y="828" width="1" height="3" fill="#000"/>
<rect x="1221" y="828" width="1" height="3" fill="#000"/>
<rect x="1285" y="828" width="1" height="3" fill="#000"/>
</g>
<g clip-path="url(#mc)"><polyline points="0,710.6 5,710.2 21,708.6 37,707.6 53,705.5 69,703.5 85,701.5 101,699.5 117,695.1 133,691.5 149,686.5 165,683.0 181,681.0 197,681.4 213,684.8 229,687.9 245,689.5 261,692.9 277,693.9 293,693.9 309,693.5 325,692.5 341,688.5 357,682.4 373,674.4 389,666.4 405,658.3 421,649.9 437,643.3 453,636.6 469,629.8 485,624.6 501,619.5 517,616.1 533,614.1 549,613.5 565,613.5 581,614.5 597,616.1 613,619.5 629,621.5 645,623.4 661,626.2 677,628.2 693,631.6 709,634.2 725,636.6 741,638.2 757,637.6 773,636.6 789,634.6 805,633.6 821,631.6 837,630.6 853,629.6 869,627.6 885,627.2 901,630.2 917,634.2 933,638.2 949,643.3 965,649.3 981,653.9 997,656.7 1013,660.3 1029,663.3 1045,665.4 1061,667.4 1077,668.8 1093,668.8 1109,668.4 1125,667.8 1141,668.4 1157,668.8 1173,669.8 1189,670.8 1205,670.8 1221,670.8 1237,670.4 1253,669.4 1269,668.4 1285,666.8" fill="none" stroke="#ff0000" stroke-width="2" stroke-linejoin="round" shape-rendering="crispEdges"/></g>
<clipPath id="rc"><rect x="5" y="724" width="1639" height="103"/></clipPath>
<g clip-path="url(#rc)"><polyline points="5,773.6 21,763.9 37,766.1 53,766.1 69,763.1 85,772.2 101,769.2 117,766.5 133,764.1 149,764.1 165,766.1 181,775.0 197,787.2 213,780.2 229,779.0 245,773.2 261,768.1 277,763.1 293,761.5 309,761.5 325,766.1 341,763.1 357,761.5 373,759.1 389,756.5 405,755.5 421,755.1 437,755.1 453,752.5 469,752.1 485,762.1 501,760.1 517,761.1 533,761.1 549,759.5 565,757.1 581,769.2 597,761.5 613,763.1 629,763.1 645,763.5 661,765.1 677,765.1 693,765.1 709,765.1 725,760.5 741,754.5 757,748.1 773,754.5 789,766.1 805,764.9 821,766.9 837,768.1 853,765.5 869,763.1 885,767.5 901,769.6 917,770.6 933,773.0 949,775.0 965,774.2 981,764.1 997,764.1 1013,766.1 1029,765.1 1045,765.1 1061,767.1 1077,765.1 1093,767.1 1109,762.1 1125,769.2 1141,769.2 1157,766.5 1173,764.9 1189,764.9 1205,771.2 1221,759.9 1237,759.9 1253,767.1 1269,762.5 1285,762.1" fill="none" stroke="#1e90ff" stroke-width="2" stroke-linejoin="round" shape-rendering="crispEdges"/></g>
<path d="M6 745.5 H1641" stroke="#000" stroke-width="1" stroke-dasharray="3 3" shape-rendering="crispEdges"/>
<path d="M6 775.5 H1641" stroke="#000" stroke-width="1" stroke-dasharray="3 3" shape-rendering="crispEdges"/>
<path d="M6 811.5 H1641" stroke="#000" stroke-width="1" stroke-dasharray="3 3" shape-rendering="crispEdges"/>
<path d="M1250.6 196.4 L1317 162.5" stroke="#e3141c" stroke-width="3.2" fill="none"/>
<path d="M1309.7 156.4 L1329 156.2 L1318.4 171.4 Z" fill="#e3141c"/>
<text x="9.4" y="609.6" textLength="65" lengthAdjust="spacingAndGlyphs">MACD(12,26,9)</text><text x="77.4" y="609.6" textLength="38" lengthAdjust="spacingAndGlyphs">0.002145</text><text x="118.4" y="609.6" textLength="38" lengthAdjust="spacingAndGlyphs">0.001791</text>
<text x="9.4" y="735.6" textLength="32" lengthAdjust="spacingAndGlyphs">RSI(14)</text><text x="44.4" y="735.6" textLength="33" lengthAdjust="spacingAndGlyphs">63.3447</text>
<text x="1650.5" y="67.8" textLength="33" lengthAdjust="spacingAndGlyphs">1.35095</text>
<text x="1650.5" y="100.8" textLength="33" lengthAdjust="spacingAndGlyphs">1.34855</text>
<text x="1650.5" y="133.8" textLength="33" lengthAdjust="spacingAndGlyphs">1.34615</text>
<text x="1650.5" y="166.8" textLength="33" lengthAdjust="spacingAndGlyphs">1.34375</text>
<text x="1650.5" y="199.8" textLength="33" lengthAdjust="spacingAndGlyphs">1.34135</text>
<text x="1650.5" y="232.8" textLength="33" lengthAdjust="spacingAndGlyphs">1.33895</text>
<text x="1650.5" y="265.8" textLength="33" lengthAdjust="spacingAndGlyphs">1.33655</text>
<text x="1650.5" y="298.8" textLength="33" lengthAdjust="spacingAndGlyphs">1.33415</text>
<text x="1650.5" y="331.8" textLength="33" lengthAdjust="spacingAndGlyphs">1.33175</text>
<text x="1650.5" y="364.8" textLength="33" lengthAdjust="spacingAndGlyphs">1.32935</text>
<text x="1650.5" y="397.8" textLength="33" lengthAdjust="spacingAndGlyphs">1.32695</text>
<text x="1650.5" y="430.8" textLength="33" lengthAdjust="spacingAndGlyphs">1.32455</text>
<text x="1650.5" y="463.8" textLength="33" lengthAdjust="spacingAndGlyphs">1.32215</text>
<text x="1650.5" y="496.8" textLength="33" lengthAdjust="spacingAndGlyphs">1.31975</text>
<text x="1650.5" y="529.8" textLength="33" lengthAdjust="spacingAndGlyphs">1.31735</text>
<text x="1650.5" y="562.8" textLength="33" lengthAdjust="spacingAndGlyphs">1.31495</text>
<text x="1650.5" y="595.8" textLength="33" lengthAdjust="spacingAndGlyphs">1.31255</text>
<text x="1648" y="608.2" textLength="38" lengthAdjust="spacingAndGlyphs">0.004121</text>
<text x="1648" y="721.4" textLength="18" lengthAdjust="spacingAndGlyphs">0.00</text>
<text x="1648" y="718" textLength="41" lengthAdjust="spacingAndGlyphs">-0.000064</text>
<text x="1648" y="734.3" textLength="15" lengthAdjust="spacingAndGlyphs">100</text>
<text x="1648" y="748.8" textLength="10" lengthAdjust="spacingAndGlyphs">80</text>
<text x="1648" y="778.9" textLength="10" lengthAdjust="spacingAndGlyphs">50</text>
<text x="1648" y="814.7" textLength="10" lengthAdjust="spacingAndGlyphs">15</text>
<text x="1648" y="823.9" textLength="5" lengthAdjust="spacingAndGlyphs">0</text>
<rect x="1646" y="25" width="41" height="11" fill="#ff0000" shape-rendering="crispEdges"/>
<text class="w" x="1650.5" y="33.8" textLength="33" lengthAdjust="spacingAndGlyphs">1.35331</text>
<rect x="1646" y="51" width="41" height="11" fill="#ff0000" shape-rendering="crispEdges"/>
<text class="w" x="1650.5" y="59.8" textLength="33" lengthAdjust="spacingAndGlyphs">1.35143</text>
<rect x="1646" y="75" width="41" height="11" fill="#000000" shape-rendering="crispEdges"/>
<text class="w" x="1650.5" y="83.8" textLength="33" lengthAdjust="spacingAndGlyphs">1.34981</text>
<rect x="1646" y="89" width="41" height="11" fill="#00bfff" shape-rendering="crispEdges"/>
<text class="w" x="1650.5" y="97.8" textLength="33" lengthAdjust="spacingAndGlyphs">1.34871</text>
<rect x="1646" y="115" width="41" height="11" fill="#0000ff" shape-rendering="crispEdges"/>
<text class="w" x="1650.5" y="123.8" textLength="33" lengthAdjust="spacingAndGlyphs">1.34678</text>
<rect x="1646" y="142" width="41" height="11" fill="#0000ff" shape-rendering="crispEdges"/>
<text class="w" x="1650.5" y="150.8" textLength="33" lengthAdjust="spacingAndGlyphs">1.34485</text>
<text x="4.2" y="840" textLength="10" lengthAdjust="spacingAndGlyphs">27</text><text x="17.2" y="840" textLength="12" lengthAdjust="spacingAndGlyphs">Jul</text><text x="32.2" y="840" textLength="20" lengthAdjust="spacingAndGlyphs">2023</text>
<text x="68.2" y="840" textLength="10" lengthAdjust="spacingAndGlyphs">28</text><text x="81.2" y="840" textLength="12" lengthAdjust="spacingAndGlyphs">Jul</text><text x="96.2" y="840" textLength="23" lengthAdjust="spacingAndGlyphs">04:00</text>
<text x="132.2" y="840" textLength="10" lengthAdjust="spacingAndGlyphs">30</text><text x="145.2" y="840" textLength="12" lengthAdjust="spacingAndGlyphs">Jul</text><text x="160.2" y="840" textLength="23" lengthAdjust="spacingAndGlyphs">23:00</text>
<text x="196.2" y="840" textLength="10" lengthAdjust="spacingAndGlyphs">31</text><text x="209.2" y="840" textLength="12" lengthAdjust="spacingAndGlyphs">Jul</text><text x="224.2" y="840" textLength="23" lengthAdjust="spacingAndGlyphs">12:00</text>
<text x="260.2" y="840" textLength="5" lengthAdjust="spacingAndGlyphs">1</text><text x="268.2" y="840" textLength="16" lengthAdjust="spacingAndGlyphs">Aug</text><text x="287.2" y="840" textLength="23" lengthAdjust="spacingAndGlyphs">04:00</text>
<text x="324.2" y="840" textLength="5" lengthAdjust="spacingAndGlyphs">1</text><text x="332.2" y="840" textLength="16" lengthAdjust="spacingAndGlyphs">Aug</text><text x="351.2" y="840" textLength="23" lengthAdjust="spacingAndGlyphs">20:00</text>
<text x="388.2" y="840" textLength="5" lengthAdjust="spacingAndGlyphs">2</text><text x="396.2" y="840" textLength="16" lengthAdjust="spacingAndGlyphs">Aug</text><text x="415.2" y="840" textLength="23" lengthAdjust="spacingAndGlyphs">12:00</text>
<text x="452.2" y="840" textLength="5" lengthAdjust="spacingAndGlyphs">3</text><text x="460.2" y="840" textLength="16" lengthAdjust="spacingAndGlyphs">Aug</text><text x="479.2" y="840" textLength="23" lengthAdjust="spacingAndGlyphs">04:00</text>
<text x="516.2" y="840" textLength="5" lengthAdjust="spacingAndGlyphs">3</text><text x="524.2" y="840" textLength="16" lengthAdjust="spacingAndGlyphs">Aug</text><text x="543.2" y="840" textLength="23" lengthAdjust="spacingAndGlyphs">20:00</text>
<text x="580.2" y="840" textLength="5" lengthAdjust="spacingAndGlyphs">4</text><text x="588.2" y="840" textLength="16" lengthAdjust="spacingAndGlyphs">Aug</text><text x="607.2" y="840" textLength="23" lengthAdjust="spacingAndGlyphs">12:00</text>
<text x="644.2" y="840" textLength="5" lengthAdjust="spacingAndGlyphs">7</text><text x="652.2" y="840" textLength="16" lengthAdjust="spacingAndGlyphs">Aug</text><text x="671.2" y="840" textLength="23" lengthAdjust="spacingAndGlyphs">04:00</text>
<text x="708.2" y="840" textLength="5" lengthAdjust="spacingAndGlyphs">7</text><text x="716.2" y="840" textLength="16" lengthAdjust="spacingAndGlyphs">Aug</text><text x="735.2" y="840" textLength="23" lengthAdjust="spacingAndGlyphs">20:00</text>
<text x="772.2" y="840" textLength="5" lengthAdjust="spacingAndGlyphs">8</text><text x="780.2" y="840" textLength="16" lengthAdjust="spacingAndGlyphs">Aug</text><text x="799.2" y="840" textLength="23" lengthAdjust="spacingAndGlyphs">12:00</text>
<text x="836.2" y="840" textLength="5" lengthAdjust="spacingAndGlyphs">9</text><text x="844.2" y="840" textLength="16" lengthAdjust="spacingAndGlyphs">Aug</text><text x="863.2" y="840" textLength="23" lengthAdjust="spacingAndGlyphs">04:00</text>
<text x="900.2" y="840" textLength="5" lengthAdjust="spacingAndGlyphs">9</text><text x="908.2" y="840" textLength="16" lengthAdjust="spacingAndGlyphs">Aug</text><text x="927.2" y="840" textLength="23" lengthAdjust="spacingAndGlyphs">20:00</text>
<text x="964.2" y="840" textLength="10" lengthAdjust="spacingAndGlyphs">10</text><text x="977.2" y="840" textLength="16" lengthAdjust="spacingAndGlyphs">Aug</text><text x="996.2" y="840" textLength="23" lengthAdjust="spacingAndGlyphs">12:00</text>
<text x="1028.2" y="840" textLength="10" lengthAdjust="spacingAndGlyphs">11</text><text x="1041.2" y="840" textLength="16" lengthAdjust="spacingAndGlyphs">Aug</text><text x="1060.2" y="840" textLength="23" lengthAdjust="spacingAndGlyphs">04:00</text>
<text x="1092.2" y="840" textLength="10" lengthAdjust="spacingAndGlyphs">13</text><text x="1105.2" y="840" textLength="16" lengthAdjust="spacingAndGlyphs">Aug</text><text x="1124.2" y="840" textLength="23" lengthAdjust="spacingAndGlyphs">23:00</text>
<text x="1156.2" y="840" textLength="10" lengthAdjust="spacingAndGlyphs">14</text><text x="1169.2" y="840" textLength="16" lengthAdjust="spacingAndGlyphs">Aug</text><text x="1188.2" y="840" textLength="23" lengthAdjust="spacingAndGlyphs">12:00</text>
<text x="1220.2" y="840" textLength="10" lengthAdjust="spacingAndGlyphs">15</text><text x="1233.2" y="840" textLength="16" lengthAdjust="spacingAndGlyphs">Aug</text><text x="1252.2" y="840" textLength="23" lengthAdjust="spacingAndGlyphs">04:00</text>
<text x="1284.2" y="840" textLength="10" lengthAdjust="spacingAndGlyphs">15</text><text x="1297.2" y="840" textLength="16" lengthAdjust="spacingAndGlyphs">Aug</text><text x="1316.2" y="840" textLength="23" lengthAdjust="spacingAndGlyphs">20:00</text>
</svg>
</body></html>
